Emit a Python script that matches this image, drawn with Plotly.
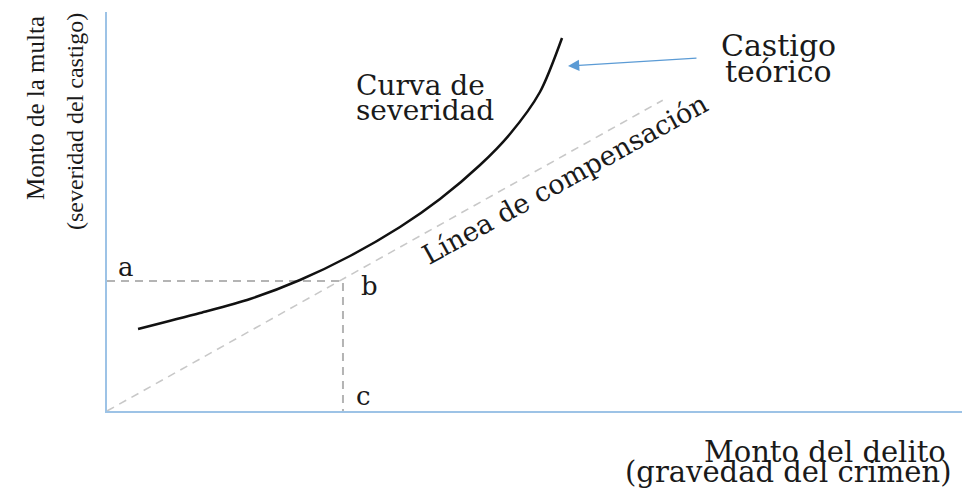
import plotly.graph_objects as go

# ---- data (axis units: 0..10 on both axes) ----
curve_x = [0.363, 1.088, 1.673, 2.257, 2.842, 3.427, 3.895, 4.363, 4.713, 5.064, 5.322]
curve_y = [2.055, 2.456, 2.807, 3.283, 3.885, 4.612, 5.313, 6.165, 6.942, 7.995, 9.348]

comp_x = [0.0, 6.50]
comp_y = [0.0, 7.79]

point_b = (2.76, 3.26)

arrow_tip = (5.392, 8.646)
arrow_tail = (6.912, 8.847)

# page body has an 8px margin, so the figure is drawn 8px smaller
OFF = 8
W, H = 978 - OFF, 489 - OFF
# plot area in reference pixel coordinates
X0, X1, Y0, Y1 = 107, 962, 12, 411
L, T = X0 - OFF, Y0 - OFF
R = W - (X1 - OFF)
B = H - (Y1 - OFF)


def px2x(px):
    return (px - X0) / (X1 - X0)


def px2y(py):
    return (Y1 - py) / (Y1 - Y0)


SERIF_W = "DejaVu Serif"
SERIF_N = "Liberation Serif"

fig = go.Figure()

# compensation line
fig.add_trace(go.Scatter(x=comp_x, y=comp_y, mode="lines",
                         line=dict(color="#c8c8c8", width=1.6, dash="8px,6px"),
                         hoverinfo="skip", showlegend=False))
# a-b and b-c guides
fig.add_trace(go.Scatter(x=[0, point_b[0], point_b[0]], y=[point_b[1], point_b[1], 0],
                         mode="lines",
                         line=dict(color="#b4b4b4", width=2, dash="8px,6px"),
                         hoverinfo="skip", showlegend=False))
# severity curve
fig.add_trace(go.Scatter(x=curve_x, y=curve_y, mode="lines",
                         line=dict(color="#111111", width=2.5, shape="spline", smoothing=0.8),
                         hoverinfo="skip", showlegend=False))

annotations = []


def txt(text, px, py, size, family=SERIF_W, angle=0, xanchor="center"):
    annotations.append(dict(x=px2x(px), y=px2y(py), xref="paper", yref="paper", text=text,
                            showarrow=False, textangle=angle, xanchor=xanchor, yanchor="middle",
                            font=dict(family=family, size=size, color="#1a1a1a")))


txt("Curva de", 354, 85, 28, xanchor="left")
txt("severidad", 354, 110, 28, xanchor="left")
txt("Castigo", 778, 45, 30)
txt("teórico", 778, 71, 30)
txt("Línea de compensación", 564, 179, 27, angle=-29)
txt("a", 126, 267, 26)
txt("b", 369, 286, 26)
txt("c", 363, 396, 26)
txt("Monto del delito", 825, 452, 29)
txt("(gravedad del crimen)", 788, 472, 29)
txt("Monto de la multa", 35, 108, 25, family=SERIF_N, angle=-90)
txt("(severidad del castigo)", 75, 122, 24, family=SERIF_N, angle=-90)

annotations.append(dict(x=arrow_tip[0], y=arrow_tip[1], ax=arrow_tail[0], ay=arrow_tail[1],
                        xref="x", yref="y", axref="x", ayref="y", text="",
                        showarrow=True, arrowhead=2, arrowsize=1.6, arrowwidth=1.4,
                        arrowcolor="#5b9bd5"))

fig.update_layout(
    width=W, height=H,
    margin=dict(l=L, r=R, t=T, b=B, pad=0),
    paper_bgcolor="white", plot_bgcolor="white",
    xaxis=dict(range=[0, 10], showgrid=False, zeroline=False, showticklabels=False,
               ticks="", showline=True, linecolor="#9dc3e6", linewidth=2, fixedrange=True),
    yaxis=dict(range=[0, 10], showgrid=False, zeroline=False, showticklabels=False,
               ticks="", showline=True, linecolor="#9dc3e6", linewidth=2, fixedrange=True),
    annotations=annotations,
    showlegend=False,
)

fig.write_html("out.html")
